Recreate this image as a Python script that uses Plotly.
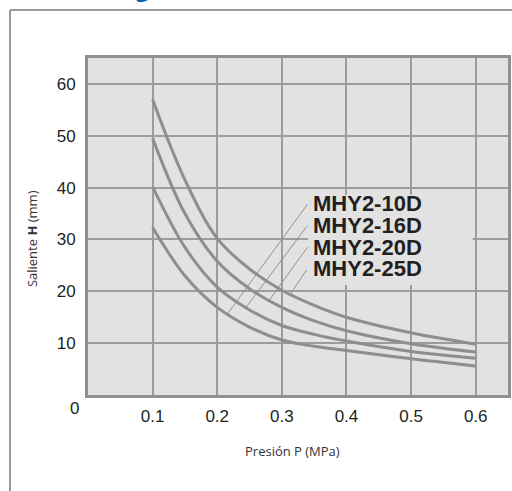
import plotly.graph_objects as go

# ---- data ----
pressure = [0.1, 0.15, 0.2, 0.25, 0.3, 0.35, 0.4, 0.5, 0.6]
h_25d = [57.0, 41.5, 30.2, 24.3, 20.2, 17.3, 15.0, 12.0, 9.8]
h_20d = [49.5, 35.0, 25.8, 20.5, 16.9, 14.3, 12.4, 9.9, 8.3]
h_16d = [40.2, 28.5, 20.8, 16.4, 13.4, 11.7, 10.4, 8.4, 7.1]
h_10d = [32.3, 23.0, 16.9, 13.1, 10.6, 9.4, 8.6, 7.0, 5.6]

series_names = ["MHY2-10D", "MHY2-16D", "MHY2-20D", "MHY2-25D"]
series_values = [h_10d, h_16d, h_20d, h_25d]

x_ticks = [0.1, 0.2, 0.3, 0.4, 0.5, 0.6]
x_tick_labels = ["0.1", "0.2", "0.3", "0.4", "0.5", "0.6"]
y_ticks = [10, 20, 30, 40, 50, 60]
y_tick_labels = ["10", "20", "30", "40", "50", "60"]

# label anchors (text position) and leader-line end points on the curves
label_x = 0.3449
label_y = [36.97, 32.63, 28.44, 24.38]
leader_top = [(0.3397, 36.8), (0.3397, 32.7), (0.3397, 28.5), (0.3381, 24.1)]
leader_end = [(0.2162, 15.7), (0.2446, 16.9), (0.2806, 18.3), (0.3114, 19.1)]

curve_color = "#8c8e91"
grid_color = "#9a9c9e"
bg_color = "#e2e2e2"
text_color = "#231f20"

fig = go.Figure()

for name, vals in zip(series_names, series_values):
    fig.add_trace(go.Scatter(
        x=pressure, y=vals, mode="lines", name=name,
        line=dict(color=curve_color, width=3, shape="spline", smoothing=1.0),
        hoverinfo="x+y+name", showlegend=False,
    ))

for (x0, y0), (x1, y1) in zip(leader_top, leader_end):
    fig.add_trace(go.Scatter(
        x=[x0, x1], y=[y0, y1], mode="lines",
        line=dict(color="#8f9193", width=1), hoverinfo="skip", showlegend=False,
    ))

annotations = []
for name, ly in zip(series_names, label_y):
    annotations.append(dict(
        x=label_x, y=ly, xref="x", yref="y", text="<b>%s</b>" % name,
        showarrow=False, xanchor="left", yanchor="middle",
        font=dict(family="Liberation Sans, Arial", size=22, color=text_color),
    ))

annotations += [
    dict(x=-0.031, y=-0.0415, xref="paper", yref="paper", text="0", showarrow=False,
         xanchor="center", yanchor="middle",
         font=dict(family="Liberation Sans, Arial", size=17, color=text_color)),
    dict(x=0.486, y=-0.166, xref="paper", yref="paper", text="Presión P (MPa)",
         showarrow=False, xanchor="center", yanchor="middle",
         font=dict(family="Open Sans", size=13, color="#333333")),
    dict(x=-0.133, y=0.463, xref="paper", yref="paper",
         text="Saliente <b>H</b> (mm)", textangle=-90,
         showarrow=False, xanchor="center", yanchor="middle",
         font=dict(family="Open Sans", size=13, color="#333333")),
    dict(x=0.15, y=1.157, xref="paper", yref="paper", text="<b>g</b>",
         showarrow=False, xanchor="right", yanchor="bottom",
         font=dict(family="Open Sans", size=22, color="#0b5ea8")),
]

shapes = [
    # box hiding grid behind the labels
    dict(type="rect", xref="x", yref="y", x0=0.3407, x1=0.5954, y0=21.2, y1=38.6,
         fillcolor=bg_color, line=dict(width=0), layer="between"),
    # outer frame
    dict(type="line", xref="paper", yref="paper", x0=-0.1857, x1=1.02,
         y0=1.1424, y1=1.1424, line=dict(color="#9a9a9a", width=2)),
    dict(type="line", xref="paper", yref="paper", x0=-0.1857, x1=-0.1857,
         y0=1.1424, y1=-0.35, line=dict(color="#9a9a9a", width=2)),
]

fig.update_layout(
    template="none",
    width=512, height=491,
    autosize=False,
    margin=dict(l=88, r=4, t=58, b=96, pad=0),
    paper_bgcolor="white",
    plot_bgcolor=bg_color,
    showlegend=False,
    annotations=annotations,
    shapes=shapes,
    xaxis=dict(
        range=[0, 0.65], tickvals=x_ticks, ticktext=x_tick_labels,
        automargin=False,
        showgrid=True, gridcolor=grid_color, gridwidth=1.5,
        showline=True, mirror=True, linecolor="#8e9093", linewidth=3,
        zeroline=False, ticks="outside", ticklen=4, tickcolor="rgba(0,0,0,0)",
        tickfont=dict(family="Liberation Sans, Arial", size=17, color=text_color),
        fixedrange=True,
    ),
    yaxis=dict(
        range=[0, 65], tickvals=y_ticks, ticktext=y_tick_labels,
        automargin=False,
        showgrid=True, gridcolor=grid_color, gridwidth=1.5,
        showline=True, mirror=True, linecolor="#8e9093", linewidth=3,
        zeroline=False, ticks="outside", ticklen=6, tickcolor="rgba(0,0,0,0)",
        tickfont=dict(family="Liberation Sans, Arial", size=17, color=text_color),
        fixedrange=True,
    ),
)

fig.write_html(
    "out.html",
    config={"displayModeBar": False},
    post_script="document.body.style.margin='0px';document.body.style.overflow='hidden';",
)
